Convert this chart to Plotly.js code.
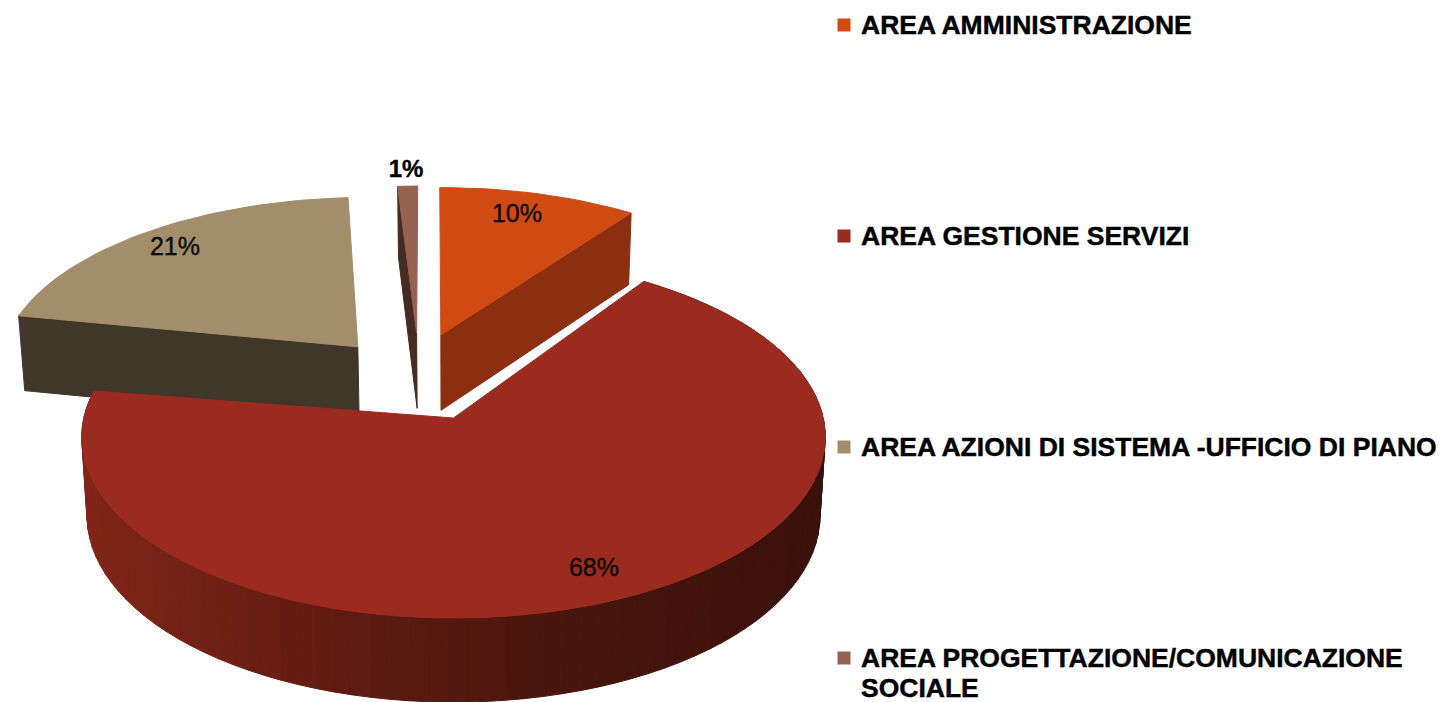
<!DOCTYPE html>
<html><head><meta charset="utf-8">
<script src="https://cdn.plot.ly/plotly-3.0.1.min.js"></script>
<style>html,body{margin:0;padding:0;background:#fff;overflow:hidden}#c{width:1441px;height:702px}
.annotation-text{stroke:#000;stroke-width:.45px}
.textpoint text{stroke:#000;stroke-width:.35px}
</style>
</head><body><div id="c"></div>
<script>
// DATA
const categories = ["AREA AMMINISTRAZIONE","AREA GESTIONE SERVIZI","AREA AZIONI DI SISTEMA -UFFICIO DI PIANO","AREA PROGETTAZIONE/COMUNICAZIONE|SOCIALE"];
const values = [10,68,21,1];

// STYLE
const topColors = ["#D04A14","#9A2B1E","#A38E6B","#956252"];
const wallColors = ["#8C2E10","#5c1a10","#40372A","#452B22"];
const explode = [[-0.036,0.488],[0,0],[-0.270,0.415],[-0.105,0.50]];
const rotate = [1.6,0,2.3,1.6];
const legendY = [25,236,447,658];
const labelPos = [[517,216],[594,570],[175,249],[406,171]];
const startDeg = -2;

// PROJECTION (disc in plan coordinates -> page pixels)
const k=0.105, X0=453.5, B=369.7, Y0=418, A=179, Y0b=496, Ab=184.5, Bb=364.5;
function proj(u,v,bottom){
  const d=1+k*v;
  return bottom ? [X0+Bb*u/d, Y0b-Ab*v/d] : [X0+B*u/d, Y0-A*v/d];
}
const rad=d=>d*Math.PI/180;
function pt(deg,off,bottom){return proj(Math.sin(rad(deg))+off[0],Math.cos(rad(deg))+off[1],bottom);}
function poly(pts,color){
  return {type:'scatter',mode:'lines',x:pts.map(p=>p[0]),y:pts.map(p=>p[1]),fill:'toself',fillcolor:color,
    line:{color:color,width:1},hoverinfo:'skip',showlegend:false};
}
const total=values.reduce((a,b)=>a+b,0);
const spans=[];let acc=startDeg;
values.forEach((v,i)=>{const s=v/total*360;spans.push([acc+rotate[i],acc+rotate[i]+s]);acc+=s;});

function topFace(i){
  const [a,b]=spans[i],off=explode[i],n=Math.max(4,Math.round((b-a)/2)),pts=[proj(off[0],off[1],false)];
  for(let j=0;j<=n;j++)pts.push(pt(a+(b-a)*j/n,off,false));
  pts.push(pts[0]);
  return poly(pts,topColors[i]);
}
function radialWall(i,deg){
  const off=explode[i];
  const p=[proj(off[0],off[1],false),pt(deg,off,false),pt(deg,off,true),proj(off[0],off[1],true)];
  p.push(p[0]);
  return poly(p,wallColors[i]);
}
function mix(c1,c2,t){return 'rgb('+c1.map((c,i)=>Math.round(c+(c2[i]-c)*t)).join(',')+')';}
const wallRamp=[[58,17,11],[71,21,12],[97,28,18],[128,37,24]];
function arcWall(i){
  const [a,b]=spans[i],off=explode[i],n=90,out=[];
  for(let j=0;j<n;j++){
    const d0=a+(b-a)*j/n,d1=a+(b-a)*(j+1)/n;
    const p=[pt(d0,off,false),pt(d1,off,false),pt(d1,off,true),pt(d0,off,true)];
    p.push(p[0]);
    const t=Math.min(1,Math.max(0,(824-p[0][0])/740));
    const s=t*3,q=Math.min(2,Math.floor(s));
    out.push(poly(p,mix(wallRamp[q],wallRamp[q+1],s-q)));
  }
  return out;
}

const traces=[];
traces.push(radialWall(2,spans[2][0]),topFace(2));
traces.push(radialWall(3,spans[3][0]),topFace(3));
traces.push(radialWall(0,spans[0][1]),topFace(0));
arcWall(1).forEach(t=>traces.push(t));
traces.push(topFace(1));

const FONT='"Liberation Sans",Arial,sans-serif';
traces.push({type:'scatter',mode:'text',x:labelPos.slice(0,3).map(p=>p[0]),y:labelPos.slice(0,3).map(p=>p[1]),
  text:values.slice(0,3).map(v=>v+'%'),textposition:'middle center',
  textfont:{family:FONT,size:25,color:'#111'},hoverinfo:'skip',showlegend:false});
traces.push({type:'scatter',mode:'text',x:[labelPos[3][0]],y:[labelPos[3][1]],text:[values[3]+'%'],textposition:'middle center',
  textfont:{family:FONT,size:24,color:'#000',weight:700},hoverinfo:'skip',showlegend:false});
traces.push({type:'scatter',mode:'markers',x:categories.map(()=>844),y:legendY,
  marker:{symbol:'square',size:13,color:topColors,line:{width:0}},hoverinfo:'skip',showlegend:false});

const annotations=[];
categories.forEach((c,i)=>c.split('|').forEach((line,j)=>annotations.push({
  x:860,y:legendY[i]-16+j*30,xref:'x',yref:'y',xanchor:'left',yanchor:'top',align:'left',
  text:line,showarrow:false,borderpad:0,font:{family:FONT,size:26.5,color:'#000',weight:700}})));

Plotly.newPlot('c',traces,{
  width:1441,height:702,margin:{l:0,r:0,t:0,b:0},paper_bgcolor:'#fff',plot_bgcolor:'#fff',showlegend:false,
  xaxis:{range:[0,1441],visible:false,fixedrange:true},
  yaxis:{range:[702,0],visible:false,fixedrange:true},
  annotations
},{displayModeBar:false,staticPlot:true});
</script></body></html>
